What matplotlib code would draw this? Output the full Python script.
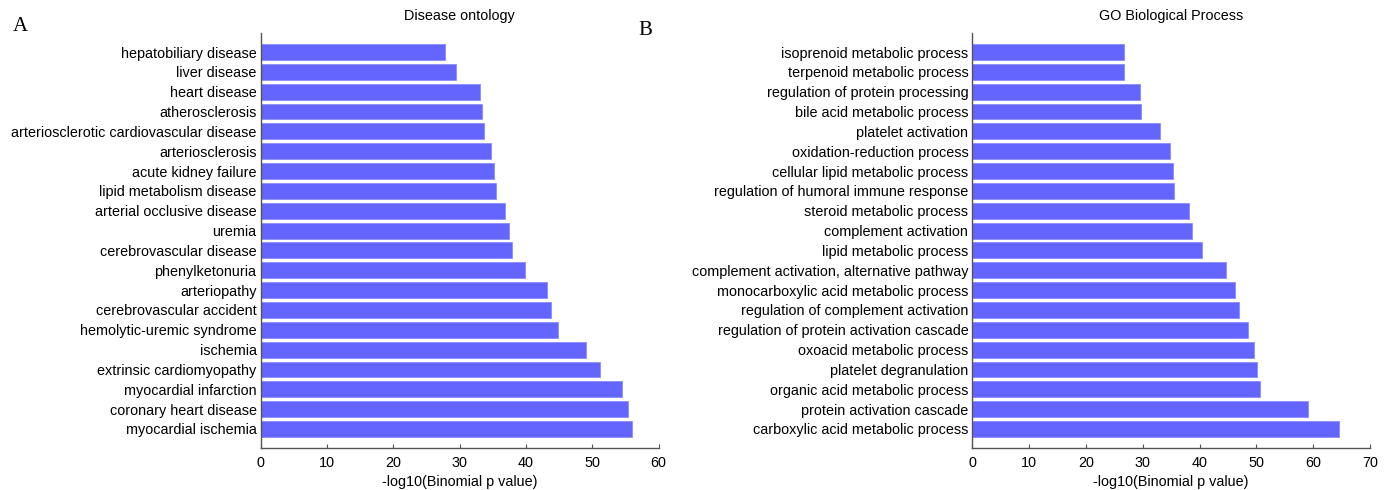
import matplotlib.pyplot as plt
import numpy as np

plt.rcParams['font.family'] = ['Liberation Sans', 'DejaVu Sans']

# Disease ontology (panel A)
do_terms = ['hepatobiliary disease', 'liver disease', 'heart disease', 'atherosclerosis',
            'arteriosclerotic cardiovascular disease', 'arteriosclerosis', 'acute kidney failure',
            'lipid metabolism disease', 'arterial occlusive disease', 'uremia',
            'cerebrovascular disease', 'phenylketonuria', 'arteriopathy',
            'cerebrovascular accident', 'hemolytic-uremic syndrome', 'ischemia',
            'extrinsic cardiomyopathy', 'myocardial infarction', 'coronary heart disease',
            'myocardial ischemia']
do_values = [27.8, 29.5, 33.1, 33.3, 33.7, 34.8, 35.2, 35.5, 36.8, 37.5,
             37.9, 39.9, 43.1, 43.7, 44.9, 49.0, 51.2, 54.5, 55.4, 56.0]

# GO Biological Process (panel B)
go_terms = ['isoprenoid metabolic process', 'terpenoid metabolic process',
            'regulation of protein processing', 'bile acid metabolic process',
            'platelet activation', 'oxidation-reduction process', 'cellular lipid metabolic process',
            'regulation of humoral immune response', 'steroid metabolic process',
            'complement activation', 'lipid metabolic process',
            'complement activation, alternative pathway', 'monocarboxylic acid metabolic process',
            'regulation of complement activation', 'regulation of protein activation cascade',
            'oxoacid metabolic process', 'platelet degranulation', 'organic acid metabolic process',
            'protein activation cascade', 'carboxylic acid metabolic process']
go_values = [26.7, 26.7, 29.5, 29.6, 33.0, 34.7, 35.4, 35.5, 38.2, 38.6,
             40.4, 44.7, 46.3, 46.9, 48.6, 49.6, 50.1, 50.6, 59.0, 64.5]

BAR_COLOR = '#6464FF'
SPINE_COLOR = '#555555'
FS = 10.4

fig = plt.figure(figsize=(13.91, 4.9), dpi=100)
axA = fig.add_axes([0.1874, 0.0857, 0.2861, 0.847])
axB = fig.add_axes([0.6991, 0.0857, 0.2858, 0.847])


def panel(ax, terms, values, title, xmax):
    y = np.arange(len(terms))
    ax.barh(y, values, height=0.8, color=BAR_COLOR, edgecolor='#8c8cff', linewidth=0.6)
    ax.set_yticks(y)
    ax.set_yticklabels(terms, fontsize=FS)
    ax.set_ylim(len(terms) - 0.04, -0.96)
    ax.set_xlim(0, xmax)
    ax.set_xticks(np.arange(0, xmax + 1, 10))
    ax.tick_params(axis='x', direction='in', length=3, labelsize=FS, color=SPINE_COLOR, pad=6)
    ax.tick_params(axis='y', length=0, pad=3)
    ax.set_xlabel('-log10(Binomial p value)', fontsize=FS, labelpad=3)
    ax.set_title(title, fontsize=FS, pad=9)
    for s in ['top', 'right']:
        ax.spines[s].set_visible(False)
    for s in ['left', 'bottom']:
        ax.spines[s].set_color(SPINE_COLOR)
        ax.spines[s].set_linewidth(1.0)


panel(axA, do_terms, do_values, 'Disease ontology', 60)
panel(axB, go_terms, go_values, 'GO Biological Process', 70)

fig.text(0.009, 0.945, 'A', fontsize=15, family='Liberation Serif', va='center')
fig.text(0.459, 0.938, 'B', fontsize=15, family='Liberation Serif', va='center')

fig.savefig('out.png', dpi=100)
